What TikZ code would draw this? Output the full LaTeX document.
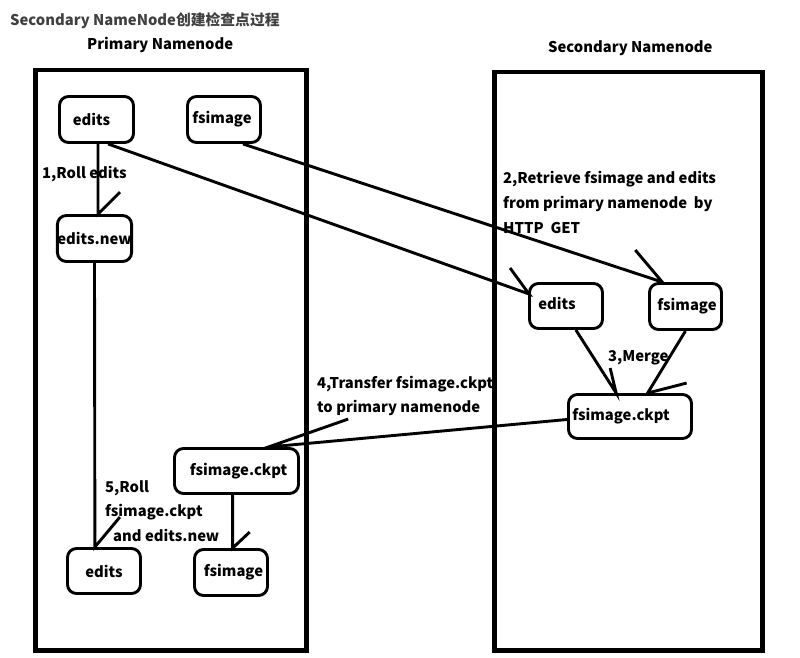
\documentclass[tikz,border=0pt]{standalone}
\usepackage{fontspec}
\setmainfont{Noto Sans CJK SC}
\usetikzlibrary{calc}
\definecolor{titlegray}{HTML}{404040}
\begin{document}
\begin{tikzpicture}[x=1pt,y=-1pt,
  font=\fontsize{14.8}{18}\selectfont\bfseries,
  fbox/.style={draw,line width=2.9pt,rounded corners=9pt,inner sep=0pt,align=center},
  conn/.style={line width=2.9pt},
  frame/.style={draw,line width=4.5pt,inner sep=0pt,anchor=north west},
  lbl/.style={anchor=base west,inner sep=0pt}]
\useasboundingbox (0,0) rectangle (800,658);
% titles
\node[lbl,text=titlegray] (title) at (10,26) {Secondary NameNode创建检查点过程};
\node[lbl] (ptitle) at (87,50) {Primary Namenode};
\node[lbl] (stitle) at (548,53) {Secondary Namenode};
% frames
\node[frame,minimum width=271,minimum height=580] (pbox) at (33,68) {};
\node[frame,minimum width=268,minimum height=578] (sbox) at (492,70) {};
% nodes
\node[fbox,minimum width=74,minimum height=46] (ledits) at (96.5,119.5) {edits\hspace*{10pt}};
\node[fbox,minimum width=73,minimum height=46] (lfs) at (224,119.5) {fsimage\hspace*{4pt}};
\node[fbox,minimum width=72,minimum height=46] (lnew) at (94.5,238.5) {edits.new};
\node[fbox,minimum width=73,minimum height=45] (redits) at (566,306) {\raisebox{6pt}{edits}\hspace*{18pt}};
\node[fbox,minimum width=72,minimum height=46] (rfs) at (685.5,306.5) {\hspace*{3pt}fsimage};
\node[fbox,minimum width=123,minimum height=44] (rckpt) at (630,416.5) {fsimage.ckpt\hspace*{18pt}};
\node[fbox,minimum width=124,minimum height=45] (lckpt) at (236.5,471) {\hspace*{4pt}fsimage.ckpt};
\node[fbox,minimum width=73,minimum height=45] (bedits) at (104,571) {edits};
\node[fbox,minimum width=73,minimum height=46] (bfs) at (231,572.5) {\hspace*{5pt}fsimage};
% labels
\node[lbl] (l1) at (42,178) {1,Roll edits};
\node[lbl] (l2a) at (503,183) {2,Retrieve fsimage and edits};
\node[lbl] (l2b) at (503,208) {from primary namenode\ \ by};
\node[lbl] (l2c) at (503,233) {HTTP\ \ GET};
\node[lbl] (l3) at (608,361) {3,Merge};
\node[lbl] (l4a) at (317,388) {4,Transfer fsimage.ckpt};
\node[lbl] (l4b) at (317,412) {to primary namenode};
\node[lbl] (l5a) at (105,492) {5,Roll};
\node[lbl] (l5b) at (105,516) {fsimage.ckpt};
\node[lbl] (l5c) at (113,541) {and edits.new};
% connectors
\coordinate (e1) at ($(ledits.south)+(1.5,0)$);
\coordinate (t1) at (e1 |- lnew.north);
\draw[conn] (e1) -- (t1) -- ++(22,-22);
\coordinate (s2) at ($(ledits.south west)!0.65!(ledits.south east)$);
\coordinate (t2) at ($(redits.west)+(1,-12)$);
\draw[conn] (s2) -- (t2) -- ++(-19,-26);
\coordinate (s3) at ($(lfs.south west)!0.75!(lfs.south east)$);
\coordinate (t3) at ($(rfs.north west)!0.19!(rfs.north east)$);
\draw[conn] (s3) -- (t3) -- ++(-27,-32);
\coordinate (s4) at ($(redits.south west)!0.63!(redits.south east)$);
\coordinate (t4) at ($(rckpt.north west)!0.39!(rckpt.north east)$);
\draw[conn] (s4) -- (t4) -- ++(-6,-25);
\coordinate (s5) at (rfs.south);
\coordinate (t5) at ($(rckpt.north west)!0.64!(rckpt.north east)$);
\draw[conn] (s5) -- (t5) -- ++(39,-10);
\coordinate (s6) at ($(rckpt.west)+(0,3)$);
\coordinate (t6) at ($(lckpt.north west)!0.75!(lckpt.north east)$);
\draw[conn] (s6) -- (t6) -- ++(80,-28);
\coordinate (s7) at (lnew.south);
\coordinate (t7) at ($(bedits.north west)!0.38!(bedits.north east)$);
\draw[conn] (s7) -- (t7) -- ++(25,-30);
\coordinate (s8) at ($(lckpt.south west)!0.47!(lckpt.south east)$);
\coordinate (t8) at (s8 |- bfs.north);
\draw[conn] (s8) -- (t8) -- ++(17,-16);
\end{tikzpicture}
\end{document}
